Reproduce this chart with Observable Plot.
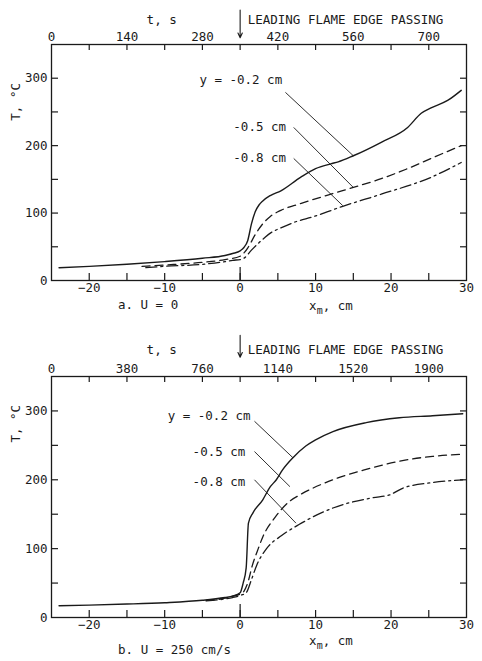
<!DOCTYPE html>
<html><head><meta charset="utf-8">
<script src="https://cdn.jsdelivr.net/npm/d3@7"></script>
<script src="https://cdn.jsdelivr.net/npm/@observablehq/plot@0.6"></script>
<style>
body{margin:0;background:#fff;}
#chart{width:482px;}
svg{display:block;}
</style></head><body><div id="chart"></div>
<script>
const FONT = '"DejaVu Sans Mono", monospace';
const INK = "#1a1a1a";

// ---- axes ----
const xDomain = [-25, 30];
const yDomain = [0, 350];
const xTickLabels = [-20, -10, 0, 10, 20, 30];
const xMinorTicks = [-20, -15, -10, -5, 0, 5, 10, 15, 20, 25];
const xLongTick = [0];
const yTickLabels = [0, 100, 200, 300];
const yMinorTicks = [50, 100, 150, 200, 250, 300];
const tTickPos = [-25, -15, -5, 5, 15, 25];   // xm positions of t labels
const tRateA = 14;   // s per cm, panel a
const tRateB = 38;   // s per cm, panel b

// ---- panel a (U = 0) ----
const aSolidX = [-24, -20, -15, -10, -5, -2, -1, 0, 0.5, 1, 1.5, 2, 2.5, 3, 4, 5.4, 8, 10, 12, 13, 15, 18.7, 22.2, 24, 25.3, 27.5, 29.3];
const aSolidT = [19, 21, 24, 28, 33, 37, 40, 44, 49, 59, 84, 102, 112, 118, 126, 133, 153, 166, 173, 176, 185, 205, 227, 248, 256, 267, 282];
const aDashX = [-13, -10, -5, -2, 0, 0.6, 1, 2, 3, 4, 5.4, 8, 12, 15, 18.7, 22, 25.3, 29.3];
const aDashT = [21, 23, 27, 31, 36, 42, 48, 68, 84, 95, 104, 114, 128, 138, 151, 165, 181, 200];
const aDotX = [-12.5, -10, -5, -2, -1, 0, 0.5, 1.5, 2.3, 3.2, 4.1, 5.4, 7.1, 9.8, 13.6, 18.7, 25.3, 29.3];
const aDotT = [19, 21, 24, 28, 30, 31, 33, 45, 54, 63, 71, 78, 86, 95, 110, 128, 153, 175];

// ---- panel b (U = 250 cm/s) ----
const bSolidX = [-24, -20, -15, -10, -5, -2, -1, 0, 0.4, 0.8, 1.1, 1.7, 3, 4, 4.8, 5.6, 7, 8.7, 10, 12.3, 16.7, 21.1, 25.5, 29.5];
const bSolidT = [17, 18, 19.5, 21.5, 25, 29, 31, 36, 50, 72, 137, 152, 171, 190, 200, 214, 232, 249, 258, 270, 283, 290, 293, 296];
const bDashX = [-4.5, -2, -1, 0, 0.5, 1, 1.6, 2.4, 3, 4.6, 6.7, 7.9, 12.3, 16.7, 21.1, 25.5, 29.5];
const bDashT = [25, 28, 31, 34, 38, 50, 75, 100, 117, 145, 170, 178, 200, 215, 227, 234, 237];
const bDotX = [-4.5, -2, -1, 0, 0.8, 1.5, 2.2, 3.5, 5.5, 7.8, 12.3, 17.6, 19.8, 21.6, 25.5, 29.5];
const bDotT = [24, 27, 29, 32, 36, 55, 76, 100, 119, 135, 159, 174, 178, 188, 196, 200];

// ---- annotations ----
const seriesLabels = ["y = -0.2 cm", "-0.5 cm", "-0.8 cm"];
const aLabelX = [-5.4, -0.9, -0.9], aLabelT = [297, 227, 181];
const aLeadX1 = [6.0, 7.1, 7.1], aLeadT1 = [279, 227, 181];
const aLeadX2 = [15, 15, 13.6], aLeadT2 = [185, 138, 111];
const bLabelX = [-9.6, -6.3, -6.3], bLabelT = [292, 241, 197];
const bLeadX1 = [1.9, 1.9, 1.9], bLeadT1 = [285, 241, 200];
const bLeadX2 = [7.0, 6.6, 7.4], bLeadT2 = [232, 190, 137];
const aArrowT = [401, 360], bArrowT = [410, 378];
const captionA = "a. U = 0", captionB = "b. U = 250 cm/s";
const tLabel = "t, s", flameLabel = "LEADING FLAME EDGE PASSING", yLabel = "T, \u00b0C";

function rows(xs, ts) { return xs.map((x, i) => ({x, T: ts[i]})); }

function panel(cfg) {
  const width = 482, mL = 51, mR = 16;
  const fh = cfg.height - cfg.mT - cfg.mB;
  const fw = width - mL - mR;
  // tick lengths (px) converted to data units
  const ux = (xDomain[1] - xDomain[0]) / fw;
  const uy = (yDomain[1] - yDomain[0]) / fh;
  const labels = seriesLabels.map((s, i) => ({s, x: cfg.labelX[i], T: cfg.labelT[i]}));
  const leads = seriesLabels.map((s, i) => ({x1: cfg.leadX1[i], y1: cfg.leadT1[i], x2: cfg.leadX2[i], y2: cfg.leadT2[i]}));
  const tk = {stroke: INK, strokeWidth: 1.2};
  const plot = Plot.plot({
    width, height: cfg.height,
    marginLeft: mL, marginRight: mR, marginTop: cfg.mT, marginBottom: cfg.mB,
    style: {fontFamily: FONT, fontSize: "12.5px", color: INK, background: "#fff"},
    x: {domain: xDomain},
    y: {domain: yDomain},
    marks: [
      Plot.frame({stroke: INK, strokeWidth: 1.3}),
      Plot.axisX(xTickLabels, {anchor: "bottom", tickSize: 0, tickPadding: 3, label: null, fontSize: 12.5}),
      Plot.axisX(tTickPos, {anchor: "top", tickSize: 0, tickPadding: 4, label: null, fontSize: 12.5,
        tickFormat: d => String(Math.round((d + 25) * cfg.tRate))}),
      Plot.axisY(yTickLabels, {anchor: "left", tickSize: 0, tickPadding: 4, label: null, fontSize: 12.5}),
      // inward ticks
      Plot.ruleX(xMinorTicks, {x: d => d, y1: yDomain[0], y2: yDomain[0] + 7 * uy, ...tk}),
      Plot.ruleX(xLongTick, {x: d => d, y1: yDomain[0], y2: yDomain[0] + 13 * uy, ...tk}),
      Plot.ruleX(xMinorTicks, {x: d => d, y1: yDomain[1] - 6 * uy, y2: yDomain[1], ...tk}),
      Plot.ruleY(yMinorTicks, {y: d => d, x1: xDomain[0], x2: xDomain[0] + 7 * ux, ...tk}),
      Plot.ruleY(yMinorTicks, {y: d => d, x1: xDomain[1] - 6 * ux, x2: xDomain[1], ...tk}),
      // curves
      Plot.line(rows(cfg.solidX, cfg.solidT), {x: "x", y: "T", stroke: INK, strokeWidth: 1.4, curve: "monotone-x"}),
      Plot.line(rows(cfg.dashX, cfg.dashT), {x: "x", y: "T", stroke: INK, strokeWidth: 1.3, strokeDasharray: "8,5", curve: "monotone-x"}),
      Plot.line(rows(cfg.dotX, cfg.dotT), {x: "x", y: "T", stroke: INK, strokeWidth: 1.3, strokeDasharray: "11,4,2,4", curve: "monotone-x"}),
      // leaders + labels
      Plot.link(leads, {x1: "x1", y1: "y1", x2: "x2", y2: "y2", stroke: INK, strokeWidth: 0.9}),
      Plot.text(labels, {x: "x", y: "T", text: "s", textAnchor: "start", fill: INK, fontSize: 12.5}),
      // top annotation
      Plot.arrow([{y1: cfg.arrowT[0], y2: cfg.arrowT[1]}], {x1: 0, x2: 0, y1: "y1", y2: "y2", stroke: INK, strokeWidth: 1.1, headLength: 7, headAngle: 50}),
      Plot.text([tLabel], {x: [-10.4], frameAnchor: "top", dy: -(cfg.mT - 15), fill: INK, fontSize: 12.5}),
      Plot.text([flameLabel], {x: [1.0], frameAnchor: "top", dy: -(cfg.mT - 15), textAnchor: "start", fill: INK, fontSize: 12.5}),
      // y label
      Plot.text([yLabel], {y: [cfg.yLabelT], frameAnchor: "left", dx: -36, rotate: -90, fill: INK, fontSize: 12.5}),
      // caption
      Plot.text([cfg.caption], {x: [cfg.captionX], frameAnchor: "bottom", dy: cfg.captionDy, fill: INK, fontSize: 12.5})
    ]
  });
  // x_m, cm axis label with subscript
  const xs = plot.scale("x");
  const t = d3.select(plot).append("text")
    .attr("x", xs.apply(12.1))
    .attr("y", cfg.height - cfg.mB + cfg.xLabelDy)
    .attr("fill", INK)
    .attr("font-family", FONT)
    .attr("font-size", "12.5px");
  t.append("tspan").text("x");
  t.append("tspan").attr("dy", 4).attr("font-size", "10px").text("m");
  t.append("tspan").attr("dy", -4).text(", cm");
  return plot;
}

const chart = document.getElementById("chart");
chart.append(panel({
  height: 330, mT: 44, mB: 50, tRate: tRateA,
  solidX: aSolidX, solidT: aSolidT, dashX: aDashX, dashT: aDashT, dotX: aDotX, dotT: aDotT,
  labelX: aLabelX, labelT: aLabelT, leadX1: aLeadX1, leadT1: aLeadT1, leadX2: aLeadX2, leadT2: aLeadT2,
  arrowT: aArrowT, yLabelT: 237, caption: captionA, captionX: -12.2, captionDy: 28, xLabelDy: 30
}));
chart.append(panel({
  height: 331, mT: 46, mB: 44, tRate: tRateB,
  solidX: bSolidX, solidT: bSolidT, dashX: bDashX, dashT: bDashT, dotX: bDotX, dotT: bDotT,
  labelX: bLabelX, labelT: bLabelT, leadX1: bLeadX1, leadT1: bLeadT1, leadX2: bLeadX2, leadT2: bLeadT2,
  arrowT: bArrowT, yLabelT: 254, caption: captionB, captionX: -8.7, captionDy: 36, xLabelDy: 28
}));
</script>
</body></html>
